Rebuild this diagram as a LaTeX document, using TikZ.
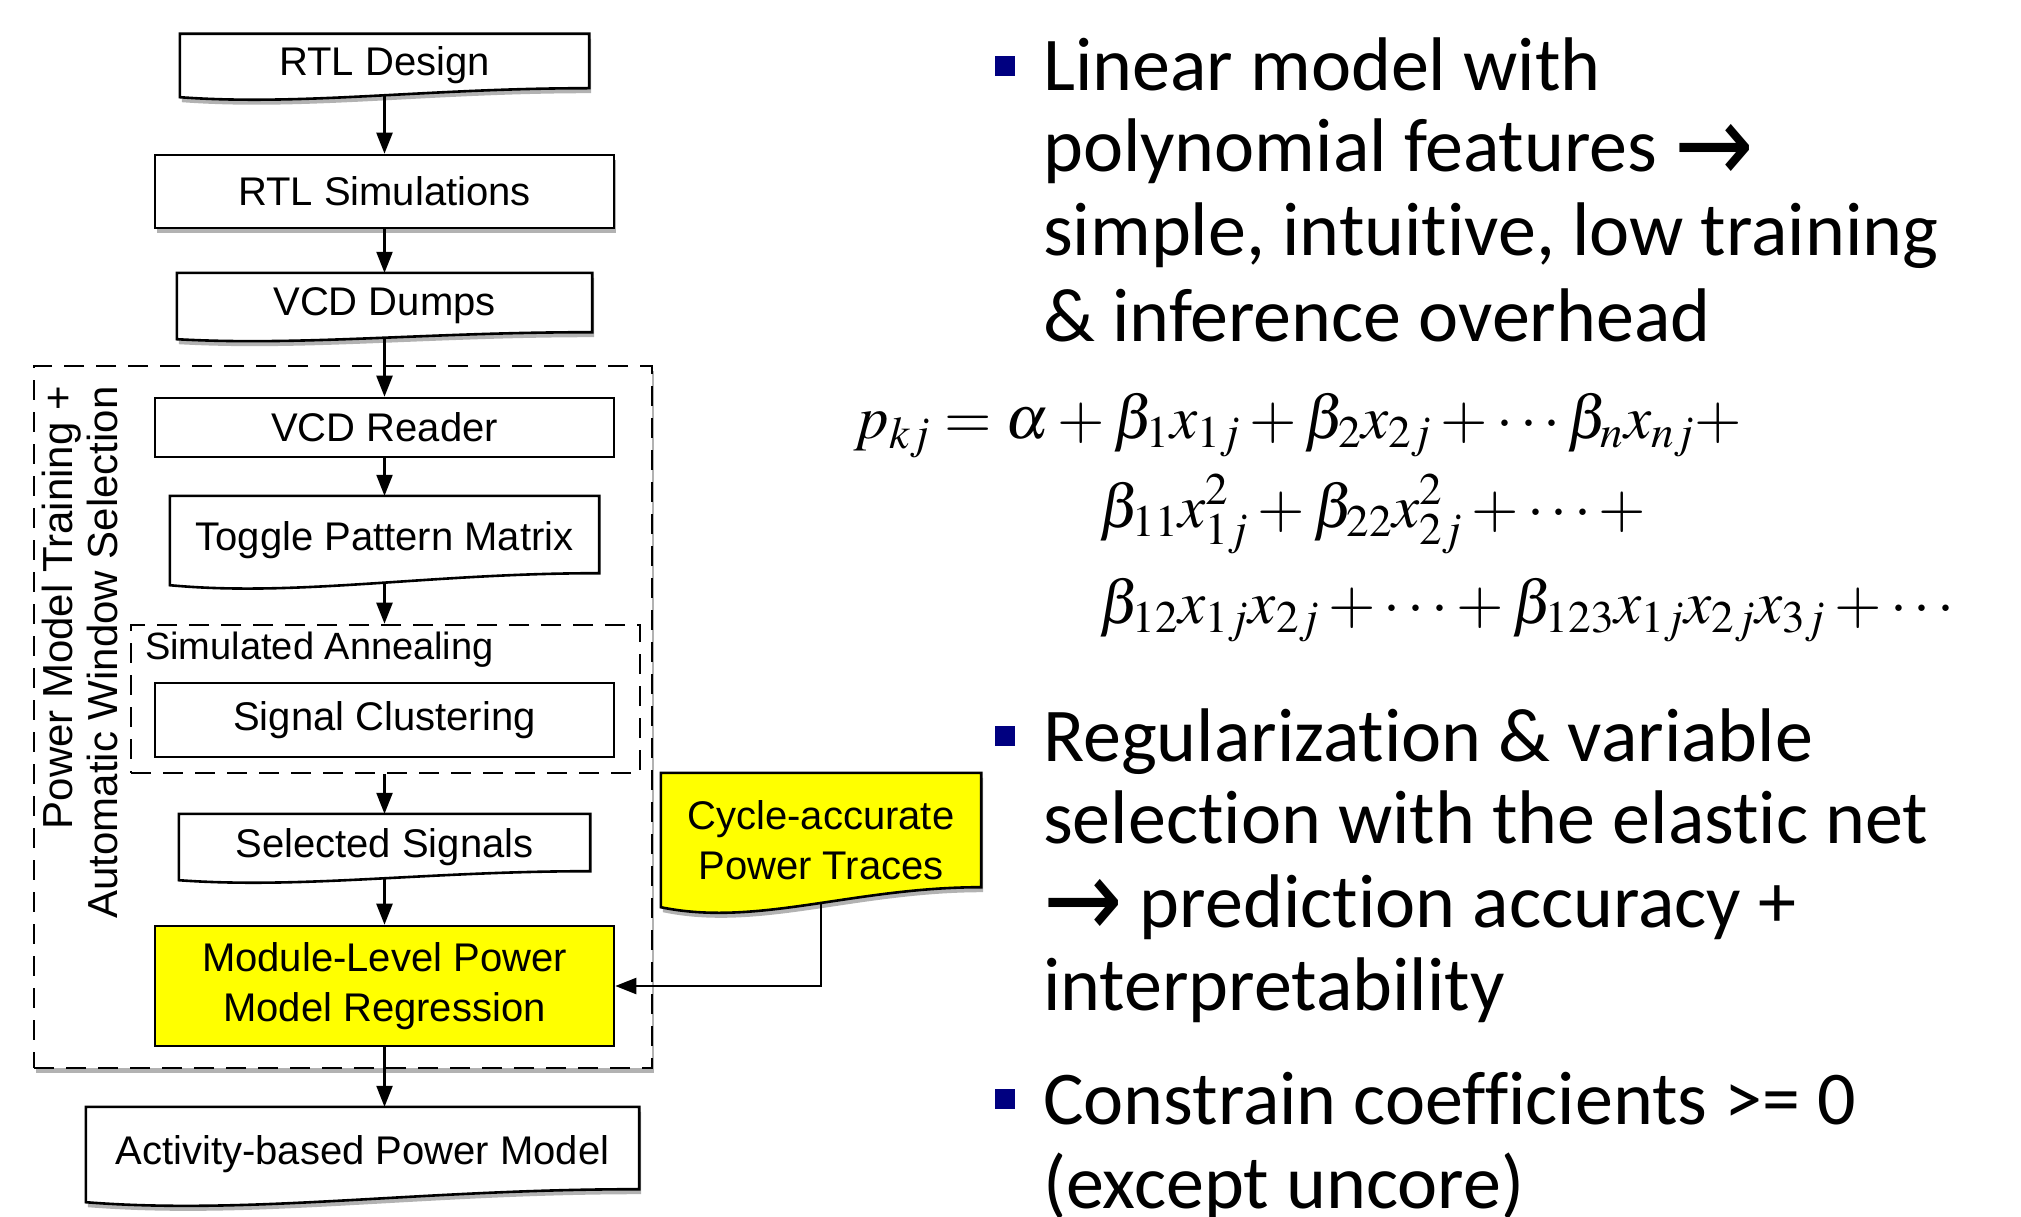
\documentclass[tikz,border=0pt]{standalone}
\usepackage{mathptmx}
\usepackage{graphicx}
\usepackage[no-math]{fontspec}
\setmainfont{Liberation Sans}
\newfontfamily\carl[Ligatures=NoCommon]{Carlito}
\newfontfamily\dvs{DejaVu Sans}
\usetikzlibrary{calc,shadows,arrows.meta}
\definecolor{navy}{HTML}{000080}
\definecolor{yel}{HTML}{FFFF00}
\pgfdeclarelayer{back}
\pgfdeclarelayer{arrowlayer}
\pgfdeclarelayer{docs}
\pgfsetlayers{back,arrowlayer,docs,main}
\newcommand\docpath[3]{%
  \path[docline,#3] (#1.north west) -- (#1.north east) -- ($(#1.south east)+(0,-#2)$)
   .. controls ($(#1.south west)!0.6!(#1.south east)+(0,-#2)$) and ($(#1.south west)!0.3!(#1.south east)+(0,#2)$) .. (#1.south west) -- cycle;}
\newcommand\rarr{{\dvs\raisebox{-0.14em}{\scalebox{1.25}[1.45]{→}}}}
\begin{document}
\begin{tikzpicture}[x=1pt,y=-1pt,
  every node/.style={font=\fontsize{40}{50}\selectfont, inner sep=0pt},
  rbox/.style={draw, line width=2.6pt, fill=white},
  docline/.style={draw, line width=2.6pt, fill=white},
  myshadow/.style={drop shadow={shadow xshift=2pt,shadow yshift=-5pt,opacity=0.3,fill=black}},
  arr/.style={line width=2.3pt, -{Triangle[length=21pt,width=16pt]}},
  dashbox/.style={draw, line width=2.6pt, dash pattern=on 20pt off 12pt},
  bt/.style={font=\carl\fontsize{76}{82}\selectfont, anchor=base west},
  bsq/.style={fill=navy, minimum size=20pt, anchor=south west},
  eq/.style={font=\fontsize{61}{70}\selectfont, anchor=base west}]
\useasboundingbox (0,0) rectangle (2021,1217);

% outer dashed frame and inner annealing frame
\begin{pgfonlayer}{back}
\fill[white] (0,0) rectangle (2021,1217);
\node[dashbox, fill=white, myshadow, minimum width=618pt, minimum height=702pt] (outer) at (343,717) {};
\node[dashbox, minimum width=509pt, minimum height=148pt] (sa) at (385.5,699) {};
\end{pgfonlayer}

% document-shaped nodes (text)
\node[minimum width=409pt, minimum height=63pt] (rtl) at (384.5,65.5) {RTL Design};
\node[minimum width=415pt, minimum height=66pt] (vcd) at (384.5,306) {VCD Dumps};
\node[minimum width=429pt, minimum height=89pt] (tog) at (384.5,540.5) {Toggle Pattern Matrix};
\node[minimum width=411pt, minimum height=66pt] (sel) at (384.5,847) {Selected Signals};
\node[minimum width=553pt, minimum height=95pt] (act) at (362.5,1154.5) {Activity-based Power Model};
\node[minimum width=320pt, minimum height=134pt, align=center] (cyc) at (821,840) {Cycle-accurate\\Power Traces};

% rectangular nodes
\node[rbox, myshadow, minimum width=459pt, minimum height=73pt] (sim) at (384.5,191.5) {RTL Simulations};
\node[rbox, minimum width=459pt, minimum height=59pt] (reader) at (384.5,427.5) {VCD Reader};
\node[rbox, minimum width=459pt, minimum height=74pt] (clust) at (384.5,720) {Signal Clustering};
\node[rbox, fill=yel, minimum width=459pt, minimum height=120pt, align=center] (mod) at (384.5,986) {Module-Level Power\\Model Regression};

\node[font=\fontsize{38}{44}\selectfont, anchor=base west] (salab) at (145,659) {Simulated Annealing};
\node[font=\fontsize{42}{45}\selectfont, rotate=90, anchor=east, align=right] (frame) at (80,386) {Power Model Training +\\Automatic Window Selection};

\begin{pgfonlayer}{docs}
\docpath{rtl}{9}{myshadow}
\docpath{vcd}{7}{myshadow}
\docpath{tog}{12}{}
\docpath{sel}{9}{}
\docpath{act}{13}{myshadow}
\docpath{cyc}{20}{myshadow,fill=yel}
\end{pgfonlayer}

\begin{pgfonlayer}{arrowlayer}
\draw[arr] (rtl.center) -- (rtl.center |- sim.north);
\draw[arr] (sim.south) -- (sim.south |- vcd.north);
\draw[arr] (vcd.center) -- (vcd.center |- reader.north);
\draw[arr] (reader.south) -- (reader.south |- tog.north);
\draw[arr] (tog.center) -- (tog.center |- sa.north);
\draw[arr] (sel.north |- sa.south) -- (sel.north);
\draw[arr] (sel.center) -- (sel.center |- mod.north);
\draw[arr] (mod.south) -- (mod.south |- act.north);
\draw[arr] (cyc.center) |- (mod.east);
\end{pgfonlayer}

% bullets
\node[bsq] (s1) at (995,76) {};
\node[bt] (b1a) at (1043,91) {Linear model with};
\node[bt] (b1b) at (1043,172) {polynomial features \rarr};
\node[bt] (b1c) at (1043,255) {simple, intuitive, low training};
\node[bt] (b1d) at (1043,341) {\& inference overhead};

\node[eq] (f1) at (854,438) {$p_{kj}=\alpha+\beta_1x_{1j}+\beta_2x_{2j}+\cdots\beta_nx_{nj}+$};
\node[eq] (f2) at (1099,527) {$\beta_{11}x_{1j}^2+\beta_{22}x_{2j}^2+\cdots+$};
\node[eq] (f3) at (1099,623) {$\beta_{12}x_{1j}x_{2j}+\cdots+\beta_{123}x_{1j}x_{2j}x_{3j}+\cdots$};

\node[bsq] (s2) at (995,746) {};
\node[bt] (b2a) at (1043,761) {Regularization \& variable};
\node[bt] (b2b) at (1043,843) {selection with the elastic net};
\node[bt] (b2c) at (1043,927) {\rarr\ prediction accuracy +};
\node[bt] (b2d) at (1043,1010) {interpretability};

\node[bsq] (s3) at (995,1109) {};
\node[bt] (b3a) at (1043,1124) {Constrain coefficients >= 0};
\node[bt] (b3b) at (1043,1208) {(except uncore)};
\end{tikzpicture}
\end{document}
